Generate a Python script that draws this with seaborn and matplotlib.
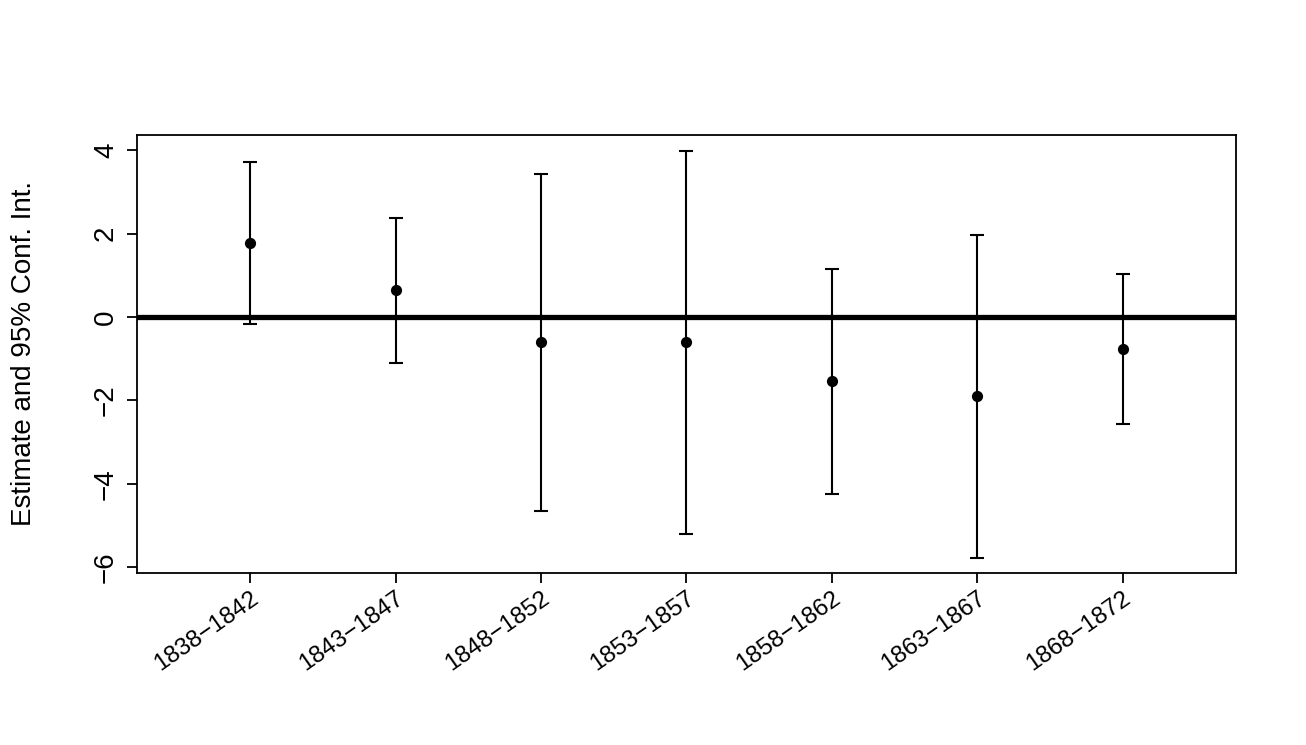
import matplotlib
matplotlib.use("Agg")
import matplotlib.pyplot as plt
import seaborn as sns
import pandas as pd
import numpy as np

# period labels and estimates with 95% CI
periods = ["1838−1842", "1843−1847", "1848−1852", "1853−1857",
           "1858−1862", "1863−1867", "1868−1872"]
estimate = [1.77, 0.65, -0.60, -0.60, -1.53, -1.89, -0.77]
upper = [3.71, 2.38, 3.43, 3.98, 1.15, 1.96, 1.03]
lower = [-0.17, -1.10, -4.65, -5.20, -4.24, -5.79, -2.57]

df = pd.DataFrame({"pos": np.arange(1, len(periods) + 1),
                   "period": periods, "est": estimate,
                   "lo": lower, "hi": upper})

sns.set_style("white")
plt.rcParams["font.family"] = ["Liberation Sans", "DejaVu Sans"]
plt.rcParams["text.color"] = "black"
plt.rcParams["axes.labelcolor"] = "black"
plt.rcParams["xtick.color"] = "black"
plt.rcParams["ytick.color"] = "black"

fig = plt.figure(figsize=(13.06, 7.45), dpi=100)
ax = fig.add_axes([0.1049, 0.2309, 0.8415, 0.5879])

ax.axhline(0, color="black", lw=3.8, zorder=1)
ax.errorbar(df["pos"], df["est"],
            yerr=[df["est"] - df["lo"], df["hi"] - df["est"]],
            fmt="none", ecolor="black", elinewidth=1.5, capsize=5,
            capthick=1.5, zorder=2)
sns.scatterplot(data=df, x="pos", y="est", color="black", s=65,
                edgecolor="black", linewidth=0, ax=ax, zorder=3)

ax.set_xlim(0.222, 7.78)
ax.set_ylim(-6.14, 4.37)
ax.set_xticks(df["pos"])
ax.set_xticklabels(periods, rotation=35, ha="right", rotation_mode="anchor",
                   fontsize=17.5)
ax.set_yticks([-6, -4, -2, 0, 2, 4])
ax.set_yticklabels(["−6", "−4", "−2", "0", "2", "4"], rotation=90,
                   va="center", fontsize=20)
ax.tick_params(axis="both", direction="out", length=7, width=1.3,
               color="black", left=True, bottom=True)
ax.tick_params(axis="y", pad=6)
ax.tick_params(axis="x", pad=3)
ax.set_xlabel("")
ax.set_ylabel("Estimate and 95% Conf. Int.", fontsize=20, labelpad=40)
for sp in ax.spines.values():
    sp.set_color("black")
    sp.set_linewidth(1.3)

fig.savefig("out.png", dpi=100)
